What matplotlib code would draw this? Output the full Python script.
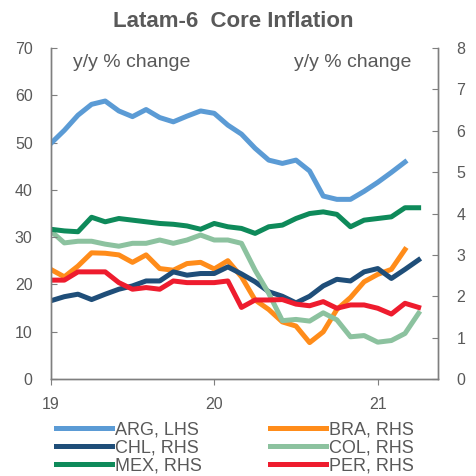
import matplotlib
matplotlib.use('Agg')
import matplotlib.pyplot as plt
import numpy as np

plt.rcParams['font.family'] = ['Liberation Sans', 'DejaVu Sans']

# monthly, Jan 2019 onwards
arg = [49.8, 52.6, 55.8, 58.1, 58.8, 56.7, 55.5, 57.0, 55.3, 54.4, 55.6, 56.7,
       56.2, 53.7, 51.8, 48.8, 46.3, 45.6, 46.3, 44.0, 38.7, 38.0, 38.0, 39.7,
       41.6, 43.7, 45.9]
bra = [2.65, 2.47, 2.73, 3.05, 3.04, 3.00, 2.82, 3.00, 2.67, 2.63, 2.79, 2.82,
       2.66, 2.86, 2.47, 1.91, 1.68, 1.38, 1.28, 0.88, 1.14, 1.68, 1.97, 2.35,
       2.53, 2.65, 3.13]
chl = [1.89, 1.99, 2.05, 1.92, 2.05, 2.17, 2.25, 2.37, 2.37, 2.59, 2.51, 2.55,
       2.55, 2.71, 2.54, 2.35, 2.11, 2.00, 1.84, 2.00, 2.25, 2.41, 2.37, 2.59,
       2.67, 2.43, 2.65, 2.88]
col = [3.58, 3.29, 3.33, 3.33, 3.26, 3.21, 3.28, 3.28, 3.36, 3.28, 3.36, 3.48,
       3.36, 3.36, 3.28, 2.63, 2.07, 1.41, 1.44, 1.40, 1.60, 1.43, 1.02, 1.05,
       0.89, 0.93, 1.10, 1.59]
mex = [3.62, 3.58, 3.56, 3.91, 3.80, 3.88, 3.84, 3.80, 3.76, 3.74, 3.70, 3.62,
       3.76, 3.68, 3.64, 3.52, 3.68, 3.72, 3.88, 4.00, 4.04, 3.98, 3.68, 3.84,
       3.88, 3.92, 4.14, 4.14]
per = [2.39, 2.39, 2.59, 2.59, 2.59, 2.33, 2.17, 2.21, 2.17, 2.37, 2.33, 2.33,
       2.33, 2.37, 1.73, 1.91, 1.91, 1.92, 1.81, 1.77, 1.87, 1.71, 1.79, 1.79,
       1.71, 1.57, 1.83, 1.73]

xticks = [0, 12, 24]
xlabels = ['19', '20', '21']

grey = '#595959'
axcol = '#7f7f7f'
lw = 3.6

fig = plt.figure(figsize=(4.77, 4.76), dpi=100)
ax = fig.add_axes([0.1063, 0.2038, 0.8113, 0.6952])
ax2 = ax.twinx()

l_arg, = ax.plot(np.arange(len(arg)), arg, color='#5b9bd5', lw=lw, label='ARG, LHS')
l_bra, = ax2.plot(np.arange(len(bra)), bra, color='#ff8c1a', lw=lw, label='BRA, RHS')
l_chl, = ax2.plot(np.arange(len(chl)), chl, color='#1f4e79', lw=lw, label='CHL, RHS')
l_col, = ax2.plot(np.arange(len(col)), col, color='#8cc29f', lw=lw, label='COL, RHS')
l_mex, = ax2.plot(np.arange(len(mex)), mex, color='#0e8a5a', lw=lw, label='MEX, RHS')
l_per, = ax2.plot(np.arange(len(per)), per, color='#ee1c2e', lw=lw, label='PER, RHS')
ax.set_zorder(ax2.get_zorder() + 1)
ax.patch.set_visible(False)

ax.set_xlim(0, 28.4)
ax.set_ylim(0, 70)
ax2.set_ylim(0, 8)
ax.set_yticks(range(0, 71, 10))
ax2.set_yticks(range(0, 9))
ax.set_xticks(xticks)
ax.set_xticklabels(xlabels)

for a in (ax, ax2):
    a.spines['top'].set_visible(False)
    for s in ('left', 'right', 'bottom'):
        a.spines[s].set_color(axcol)
        a.spines[s].set_linewidth(1.0)
ax.tick_params(axis='y', direction='in', length=4, color=axcol, labelcolor=grey,
               labelsize=11.5, pad=13)
ax2.tick_params(axis='y', direction='in', length=4, color=axcol, labelcolor=grey,
                labelsize=11.5, pad=13.5)
ax.tick_params(axis='x', direction='out', length=4, color=axcol, labelcolor=grey,
               labelsize=11.5, pad=9)

# annotation baselines at y=67 px
ax.text(72.7 / 477, 1 - 67.3 / 476, 'y/y % change', transform=fig.transFigure,
        fontsize=14, color=grey, va='baseline', ha='left')
ax.text(411 / 477, 1 - 67.3 / 476, 'y/y % change', transform=fig.transFigure,
        fontsize=14, color=grey, va='baseline', ha='right')

fig.text(0.488, 1 - 27 / 476, 'Latam-6  Core Inflation', ha='center', va='baseline',
         fontsize=16, fontweight='bold', color=grey)

# legend is filled column by column
handles = [l_arg, l_chl, l_mex, l_bra, l_col, l_per]
leg = fig.legend(handles=handles, loc='upper left', bbox_to_anchor=(0.1174, 0.1145),
                 ncol=2, frameon=False, fontsize=13, handlelength=3.08,
                 handletextpad=0.18, columnspacing=3.8, labelspacing=0.05,
                 borderpad=0, borderaxespad=0)
for t in leg.get_texts():
    t.set_color(grey)

fig.savefig('out.png', dpi=100)
